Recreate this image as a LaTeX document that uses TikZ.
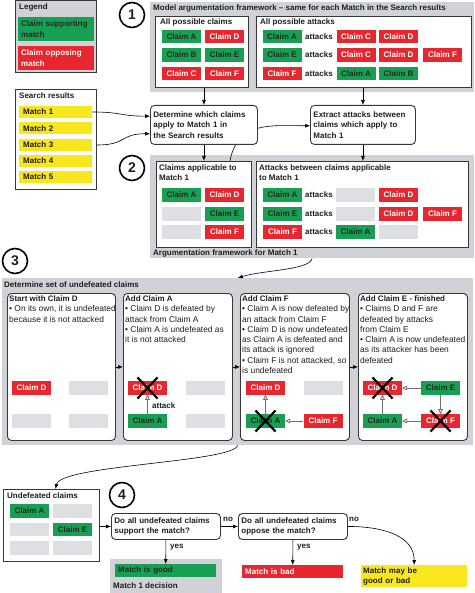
\documentclass[tikz,border=0pt]{standalone}
\usepackage{fontspec}
\setmainfont{Liberation Sans}
\usetikzlibrary{arrows.meta,calc}
\definecolor{cgreen}{RGB}{24,160,82}
\definecolor{cred}{RGB}{232,38,46}
\definecolor{cyellow}{RGB}{248,230,30}
\definecolor{panelgrey}{RGB}{208,210,216}
\definecolor{phgrey}{RGB}{222,223,226}
\definecolor{bordc}{RGB}{55,55,58}
\definecolor{txt}{RGB}{30,30,30}
\definecolor{attgrey}{RGB}{110,110,110}
\pgfdeclarelayer{bg}\pgfdeclarelayer{mid}\pgfsetlayers{bg,mid,main}
\newcommand{\fs}{\fontsize{8}{10.3}\selectfont}
\newcommand{\fb}{\fontsize{8.4}{10.1}\selectfont\mdseries}
\begin{document}
\begin{tikzpicture}[x=1pt,y=-1pt,font=\fs\bfseries,text=txt,
  claimbase/.style={minimum width=39pt,minimum height=13.5pt,inner sep=0pt,font=\fs\bfseries},
  cg/.style={claimbase,fill=cgreen,text=black!85},
  cr/.style={claimbase,fill=cred,text=white},
  ph/.style={claimbase,fill=phgrey},
  panel/.style={fill=panelgrey,inner sep=0pt,anchor=north west},
  wbox/.style={draw=bordc,line width=1pt,fill=white,inner sep=0pt,anchor=north west},
  rbox/.style={draw=bordc,line width=0.9pt,fill=white,rounded corners=4pt,anchor=north west},
  lbl/.style={anchor=west,inner sep=0pt},
  para/.style={anchor=north west,inner sep=0pt,align=left},
  arr/.style={-{Latex[length=5pt,width=4pt]},line width=0.6pt,black},
  att/.style={-{Triangle[open,length=5pt,width=5pt]},draw=attgrey,line width=0.8pt},
  cross/.style={line width=2.2pt,black},
  num/.style={circle,draw=black,line width=1.6pt,minimum size=25pt,inner sep=0pt,font=\fontsize{14}{14}\selectfont\bfseries,fill=white}]
\useasboundingbox (0,0) rectangle (474,593);

% ---------- background panels
\begin{pgfonlayer}{bg}
\node[panel,minimum width=324pt,minimum height=90pt] (s1) at (150,2) {};
\node[panel,minimum width=324pt,minimum height=103pt] (s2) at (150,155) {};
\node[panel,minimum width=471pt,minimum height=167pt] (s3) at (2,278) {};
\node[panel,minimum width=112pt,minimum height=36pt] (s4) at (110,559) {};
\end{pgfonlayer}

% ---------- legend
\node[draw=bordc,line width=1pt,fill=panelgrey,minimum width=81pt,minimum height=72pt,anchor=north west] (legend) at (15,0.5) {};
\node[lbl] (legendt) at (19,7.5) {Legend};
\node[fill=cgreen,text=black!85,anchor=north west,minimum width=76pt,minimum height=24pt,text width=70pt,inner sep=3pt,align=left] (lgreen) at (18,17) {Claim supporting\\match};
\node[fill=cred,text=white,anchor=north west,minimum width=76pt,minimum height=24pt,text width=70pt,inner sep=3pt,align=left] (lred) at (18,46) {Claim opposing\\match};

% ---------- search results
\node[wbox,minimum width=81pt,minimum height=100pt] (search) at (15,89) {};
\node[lbl] (searcht) at (19,96) {Search results};
\foreach \i/\y in {1/112,2/128.5,3/145,4/161,5/177}{
  \node[fill=cyellow,anchor=west,minimum width=73pt,minimum height=12pt,text width=65pt,inner xsep=4pt,inner ysep=0pt,align=left] (m\i) at (19,\y) {Match \i};
}

% ---------- numbers
\node[num] (n1) at (132,15) {1};
\node[num] (n2) at (132,168) {2};
\node[num] (n3) at (15,261) {3};
\node[num] (n4) at (122,495) {4};

% ---------- section 1
\node[lbl] (s1t) at (153,8) {Model argumentation framework -- same for each Match in the Search results};
\node[wbox,minimum width=93pt,minimum height=71pt] (acl) at (155,16) {};
\node[lbl] (aclt) at (160,22.5) {All possible claims};
\node[wbox,minimum width=215pt,minimum height=71pt] (atk) at (256,16) {};
\node[lbl] (atkt) at (260,22.5) {All possible attacks};
\node[cg] (c1a) at (181.5,36.5) {Claim A};
\node[cr] (c1d) at (224.5,36.5) {Claim D};
\node[cg] (c1b) at (181.5,55) {Claim B};
\node[cg] (c1e) at (224.5,55) {Claim E};
\node[cr] (c1c) at (181.5,73.5) {Claim C};
\node[cr] (c1f) at (224.5,73.5) {Claim F};
% attacks
\node[cg] (k1a) at (282,36.5) {Claim A};
\node (k1w) at (319,36.5) {attacks};
\node[cr] (k1c) at (356,36.5) {Claim C};
\node[cr] (k1d) at (398.5,36.5) {Claim D};
\node[cg] (k2e) at (282,55) {Claim E};
\node (k2w) at (319,55) {attacks};
\node[cr] (k2c) at (356,55) {Claim C};
\node[cr] (k2d) at (398.5,55) {Claim D};
\node[cr] (k2f) at (442.5,55) {Claim F};
\node[cr] (k3f) at (282,73.5) {Claim F};
\node (k3w) at (319,73.5) {attacks};
\node[cg] (k3a) at (356,73.5) {Claim A};
\node[cg] (k3b) at (398.5,73.5) {Claim B};

% ---------- section 2 boxes (created before the curve)
\node[wbox,minimum width=95pt,minimum height=86pt] (cla) at (156,161) {};
\node[para] (clat) at (159,164.5) {Claims applicable to\\Match 1};
\node[wbox,minimum width=212pt,minimum height=86pt] (atb) at (256,161) {};
\node[para] (atbt) at (259,164.5) {Attacks between claims applicable\\to Match 1};
\node[lbl] (s2t) at (153,253) {Argumentation framework for Match 1};

\node[cg] (d1a) at (181.5,195) {Claim A};
\node[cr] (d1d) at (224.5,195) {Claim D};
\node[ph] (d1p) at (181.5,214) {};
\node[cg] (d1e) at (224.5,214) {Claim E};
\node[ph] (d1q) at (181.5,232) {};
\node[cr] (d1f) at (224.5,232) {Claim F};

\node[cg] (e1a) at (282.5,195) {Claim A};
\node (e1w) at (319,195) {attacks};
\node[ph] (e1p) at (355.5,195) {};
\node[cr] (e1d) at (398.5,195) {Claim D};
\node[cg] (e2e) at (282.5,214) {Claim E};
\node (e2w) at (319,214) {attacks};
\node[ph] (e2p) at (355.5,214) {};
\node[cr] (e2d) at (398.5,214) {Claim D};
\node[cr] (e2f) at (442.5,214) {Claim F};
\node[cr] (e3f) at (282.5,232) {Claim F};
\node (e3w) at (319,232) {attacks};
\node[cg] (e3a) at (355.5,232) {Claim A};
\node[ph] (e3p) at (398.5,232) {};

% ---------- process boxes
\node[rbox,minimum width=107pt,minimum height=39pt,text width=101pt,inner sep=3pt,align=left] (det) at (150,105) {Determine which claims\\apply to Match 1 in\\the Search results};
\node[rbox,minimum width=105pt,minimum height=39pt,text width=99pt,inner sep=3pt,align=left] (ext) at (310,105) {Extract attacks between\\claims which apply to\\Match 1};

\begin{pgfonlayer}{mid}
\draw[arr] ($(cla.north west)!0.77!(cla.north east)$) .. controls +(8,-40) and +(-40,0) .. ($(ext.north west)!0.52!(ext.south west)$);
\end{pgfonlayer}

\draw[arr] (m1.east) .. controls +(30,0) and +(-30,0) .. ($(det.north west)!0.28!(det.south west)$);
\draw[arr] (search.east |- m3.east) .. controls +(30,0) and +(-30,0) .. ($(det.north west)!0.72!(det.south west)$);
\draw[arr] (acl.south -| det.north) -- (det.north);
\draw[arr] (atk.south -| ext.north) -- (ext.north);
\draw[arr] (det.south) -- (det.south |- cla.north);
\draw[arr] (ext.south) -- (ext.south |- atb.north);

% ---------- section 3
\draw[arr] (s2.south) .. controls +(-3,12) and +(25,-8) .. (s3.north);
\node[lbl] (s3t) at (4,284.5) {Determine set of undefeated claims};
\node[rbox,minimum width=108pt,minimum height=147pt] (p1) at (7,293) {};
\node[rbox,minimum width=109pt,minimum height=147pt] (p2) at (123,293) {};
\node[rbox,minimum width=109pt,minimum height=147pt] (p3) at (240,293) {};
\node[rbox,minimum width=109pt,minimum height=147pt] (p4) at (358,293) {};
\draw[arr] (p1.east) -- (p2.west);
\draw[arr] (p2.east) -- (p3.west);
\draw[arr] (p3.east) -- (p4.west);

\node[para] (p1t) at ($(p1.north west)+(2,2.5)$) {Start with Claim D\\\fb\textbullet\ On its own, it is undefeated\\\fb because it is not attacked};
\node[para] (p2t) at ($(p2.north west)+(2,2.5)$) {Add Claim A\\\fb\textbullet\ Claim D is defeated by\\\fb attack from Claim A\\\fb\textbullet\ Claim A is undefeated as\\\fb it is not attacked};
\node[para] (p3t) at ($(p3.north west)+(2,2.5)$) {Add Claim F\\\fb\textbullet\ Claim A is now defeated by\\\fb an attack from Claim F\\\fb\textbullet\ Claim D is now undefeated\\\fb as Claim A is defeated and\\\fb its attack is ignored\\\fb\textbullet\ Claim F is not attacked, so\\\fb is undefeated};
\node[para] (p4t) at ($(p4.north west)+(2,2.5)$) {Add Claim E - finished\\\fb\textbullet\ Claims D and F are\\\fb defeated by attacks\\\fb from Claim E\\\fb\textbullet\ Claim A is now undefeated\\\fb as its attacker has been\\\fb defeated};

\node[cr] (q1d) at (31.5,388) {Claim D};
\node[ph] (q1p) at (88.5,388) {};
\node[ph] (q1q) at (31.5,421) {};
\node[ph] (q1r) at (88.5,421) {};

\node[cr] (q2d) at (147.5,388) {Claim D};
\node[ph] (q2p) at (205.5,388) {};
\node[cg] (q2a) at (147.5,421) {Claim A};
\node[ph] (q2q) at (205.5,421) {};
\draw[att] (q2a.north) -- (q2d.south);
\node[lbl] (q2l) at (152,405.5) {attack};
\draw[cross] ($(q2d.center)+(-10,-10.5)$) -- ($(q2d.center)+(10,10.5)$);
\draw[cross] ($(q2d.center)+(10,-10.5)$) -- ($(q2d.center)+(-10,10.5)$);

\node[cr] (q3d) at (265.5,388) {Claim D};
\node[ph] (q3p) at (323,388) {};
\node[cg] (q3a) at (265.5,421) {Claim A};
\node[cr] (q3f) at (323,421) {Claim F};
\draw[att] (q3a.north) -- (q3d.south);
\draw[att] (q3f.west) -- (q3a.east);
\draw[cross] ($(q3a.center)+(-10,-10.5)$) -- ($(q3a.center)+(10,10.5)$);
\draw[cross] ($(q3a.center)+(10,-10.5)$) -- ($(q3a.center)+(-10,10.5)$);

\node[cr] (q4d) at (382.5,388) {Claim D};
\node[cg] (q4e) at (440.5,388) {Claim E};
\node[cg] (q4a) at (382.5,421) {Claim A};
\node[cr] (q4f) at (440.5,421) {Claim F};
\draw[att] (q4e.west) -- (q4d.east);
\draw[att] (q4e.south) -- (q4f.north);
\draw[att] (q4a.north) -- (q4d.south);
\draw[att] (q4f.west) -- (q4a.east);
\draw[cross] ($(q4d.center)+(-10,-10.5)$) -- ($(q4d.center)+(10,10.5)$);
\draw[cross] ($(q4d.center)+(10,-10.5)$) -- ($(q4d.center)+(-10,10.5)$);
\draw[cross] ($(q4f.center)+(-10,-10.5)$) -- ($(q4f.center)+(10,10.5)$);
\draw[cross] ($(q4f.center)+(10,-10.5)$) -- ($(q4f.center)+(-10,10.5)$);

% ---------- section 4
\node[wbox,minimum width=96pt,minimum height=72pt] (und) at (3,489) {};
\node[lbl] (undt) at (7,496) {Undefeated claims};
\node[cg] (u1a) at (29.5,511) {Claim A};
\node[ph] (u1p) at (72.5,511) {};
\node[ph] (u2p) at (29.5,529.5) {};
\node[cg] (u2e) at (72.5,529.5) {Claim E};
\node[ph] (u3p) at (29.5,548) {};
\node[ph] (u3q) at (72.5,548) {};
\draw[arr] (s3.south) .. controls +(-5,17) and +(5,-24) .. ($(und.north)+(4,0)$);

\node[rbox,minimum width=109pt,minimum height=26pt,text width=103pt,inner sep=3pt,align=left] (dec1) at (111,513) {Do all undefeated claims\\support the match?};
\node[rbox,minimum width=109pt,minimum height=26pt,text width=103pt,inner sep=3pt,align=left] (dec2) at (238,513) {Do all undefeated claims\\oppose the match?};
\draw[arr] (dec1.west -| und.east) -- (dec1.west);
\draw[arr] (dec1.east) -- (dec2.west);
\node[lbl] (no1) at (223,519.5) {no};
\node[lbl] (no2) at (349,519.5) {no};

\node[fill=cgreen,text=black!85,anchor=north west,minimum width=101pt,minimum height=13pt,text width=95pt,inner xsep=3pt,inner ysep=0pt,align=left] (good) at (115,564) {Match is good};
\node[lbl] (s4t) at (113,586) {Match 1 decision};
\node[fill=cred,text=white,anchor=north west,minimum width=101pt,minimum height=12.5pt,text width=95pt,inner xsep=3pt,inner ysep=0pt,align=left] (bad) at (242,565) {Match is bad};
\node[fill=cyellow,anchor=north west,minimum width=106pt,minimum height=22pt,text width=102pt,inner xsep=2pt,inner ysep=1pt,align=left] (may) at (361,565) {Match may be\\good or bad};

\draw[arr] (dec1.south) -- (good.north);
\node[lbl] (yes1) at (170,547) {yes};
\draw[arr] (dec2.south) -- (bad.north);
\node[lbl] (yes2) at (297,547) {yes};
\draw[arr] (dec2.east) .. controls +(38,0) and +(0,-28) .. (may.north);
\end{tikzpicture}
\end{document}
